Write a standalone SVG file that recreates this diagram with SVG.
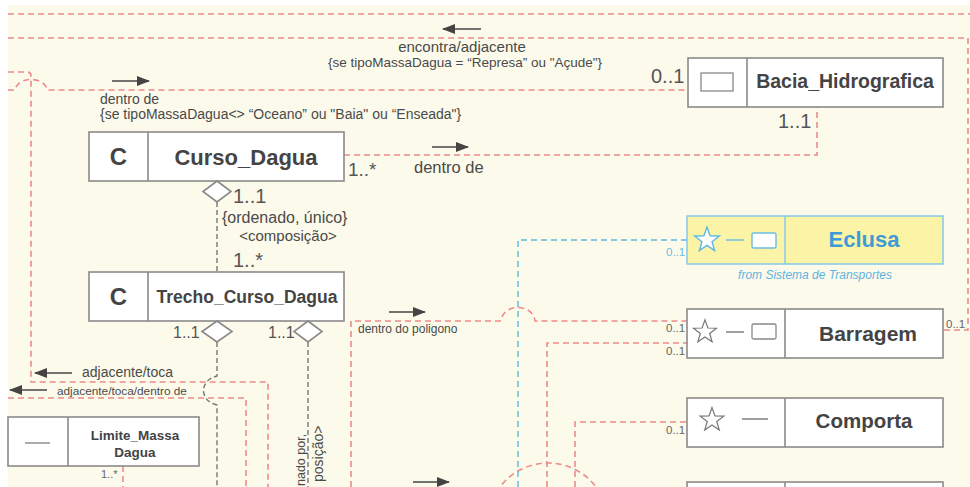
<svg xmlns="http://www.w3.org/2000/svg" width="970" height="487" viewBox="0 0 970 487">
<style>
text{font-family:"Liberation Sans",Arial,sans-serif;fill:#4a4a4a}
.box{fill:#fff;stroke:#8a8a8a;stroke-width:1.6}
.div{stroke:#8a8a8a;stroke-width:1.6}
.t{font-weight:bold;text-anchor:middle;fill:#444}
.red{fill:none;stroke:#ee8a8a;stroke-width:1.6;stroke-dasharray:6 4}
.blue{fill:none;stroke:#5cb8e4;stroke-width:1.4;stroke-dasharray:6 4}
.grey{fill:none;stroke:#777;stroke-width:1.4;stroke-dasharray:5 3}
.arr{stroke:#444;stroke-width:1.5;fill:none;marker-end:url(#ah)}
.m{fill:#555}
.s{font-size:11.5px;fill:#666}
.dia{fill:#fff;stroke:#888;stroke-width:1.6}
.star{fill:#fff;stroke:#777;stroke-width:1.3}
</style>
<defs>
<marker id="ah" markerUnits="userSpaceOnUse" markerWidth="14" markerHeight="10" refX="12" refY="5" orient="auto">
<path d="M0,0 L13,5 L0,10 Z" fill="#444"/>
</marker>
<polygon id="starShape" points="0,-13 3.12,-4.29 12.36,-4.02 5.04,1.64 7.64,10.52 0,5.3 -7.64,10.52 -5.04,1.64 -12.36,-4.02 -3.12,-4.29"/>
</defs>
<rect x="0" y="0" width="970" height="487" fill="#ffffff"/>
<rect x="8" y="5" width="962" height="482" fill="#fcfaeb"/>

<g id="connectors">
<path class="red" d="M8,14 H970"/>
<path class="red" d="M8,38 H968 V330 H943"/>
<path class="red" d="M8,90 H15 C17,76 45,76 47,90 H688"/>
<path class="red" d="M8,72 H27 Q31,72 31,76 V382 H268 V487"/>
<path class="red" d="M8,398 H246 V487"/>
<path class="red" d="M344,155 H817 V107"/>
<path class="red" d="M351,487 V321 H501 C503,303 533,303 535,321 H687"/>
<path class="red" d="M547,487 V343 H687"/>
<path class="red" d="M575,487 V422 H687"/>
<path class="red" d="M123,466 V487"/>
<circle class="red" cx="548" cy="523" r="60"/>
<path class="blue" d="M518,487 V240 H687"/>
<path class="grey" d="M217,202 V272"/>
<path class="grey" d="M217,342 V376 C199,380 199,401 217,405 V487"/>
<path class="grey" d="M308,342 V487"/>
<line class="arr" x1="481" y1="29" x2="443" y2="29"/>
<line class="arr" x1="112" y1="81" x2="149" y2="81"/>
<line class="arr" x1="432" y1="147" x2="468" y2="147"/>
<line class="arr" x1="389" y1="312" x2="425" y2="312"/>
<line class="arr" x1="413" y1="482" x2="449" y2="482"/>
<line class="arr" x1="72" y1="373" x2="35" y2="373"/>
<line class="arr" x1="47" y1="390" x2="10" y2="390"/>
<text x="462" y="52" text-anchor="middle" style="font-size:15px">encontra/adjacente</text>
<text x="465" y="67" text-anchor="middle" style="font-size:13.5px">{se tipoMassaDagua = “Represa” ou "Açude"}</text>
<text x="100" y="104" style="font-size:14px">dentro de</text>
<text x="100" y="119" style="font-size:14px">{se tipoMassaDagua&lt;&gt; “Oceano” ou "Baia" ou “Enseada"}</text>
<text x="651" y="83" class="m" style="font-size:20px">0..1</text>
<text x="778" y="128" class="m" style="font-size:20px">1..1</text>
<text x="348" y="176" class="m" style="font-size:19px">1..*</text>
<text x="414" y="173" style="font-size:16.5px">dentro de</text>
<text x="233" y="203" class="m" style="font-size:20px">1..1</text>
<text x="222" y="223" style="font-size:16px">{ordenado, único}</text>
<text x="288" y="241" text-anchor="middle" style="font-size:15px">&lt;composição&gt;</text>
<text x="233" y="267" class="m" style="font-size:20px">1..*</text>
<text x="173" y="338" class="m" style="font-size:16px">1..1</text>
<text x="268" y="338" class="m" style="font-size:16px">1..1</text>
<text x="82" y="377" style="font-size:14px">adjacente/toca</text>
<text x="57" y="395" style="font-size:11.8px">adjacente/toca/dentro de</text>
<text x="358" y="333" style="font-size:12px">dentro do poligono</text>
<text transform="translate(305,486) rotate(-90)" style="font-size:12.5px">nado por,</text>
<text transform="translate(323,482) rotate(-90)" style="font-size:14px">posição&gt;</text>
<text x="101" y="478" style="font-size:11px;fill:#666">1..*</text>
<text x="666" y="256" style="font-size:11.5px;fill:#6bbbe3">0..1</text>
<text x="666" y="332" class="s">0..1</text>
<text x="666" y="355" class="s">0..1</text>
<text x="666" y="434" class="s">0..1</text>
<text x="946" y="328" class="s">0..1</text>
</g>

<g id="Curso_Dagua">
<rect class="box" x="89" y="132" width="255" height="49"/>
<line class="div" x1="148" y1="132" x2="148" y2="181"/>
<text class="t" x="118.5" y="165" style="font-size:24px">C</text>
<text class="t" x="246" y="165" style="font-size:22px">Curso_Dagua</text>
<polygon class="dia" points="217,181 231,191.5 217,202 203,191.5"/>
</g>

<g id="Trecho_Curso_Dagua">
<rect class="box" x="89" y="272" width="255" height="49"/>
<line class="div" x1="148" y1="272" x2="148" y2="321"/>
<text class="t" x="118.5" y="305" style="font-size:24px">C</text>
<text class="t" x="247" y="303" style="font-size:17.5px">Trecho_Curso_Dagua</text>
<polygon class="dia" points="217,321 232,331.5 217,342 202,331.5"/>
<polygon class="dia" points="308,321 322,331.5 308,342 294,331.5"/>
</g>

<g id="Bacia_Hidrografica">
<rect class="box" x="688" y="58" width="255" height="49"/>
<line class="div" x1="747" y1="58" x2="747" y2="107"/>
<rect x="701" y="73" width="32" height="18" fill="#fff" stroke="#888" stroke-width="1.3"/>
<text class="t" x="845" y="88" style="font-size:19.5px">Bacia_Hidrografica</text>
</g>

<g id="Eclusa">
<rect x="687" y="216" width="256" height="48" fill="#fbf4a6" stroke="#8ecbe6" stroke-width="1.6"/>
<line x1="785" y1="216" x2="785" y2="264" stroke="#8ecbe6" stroke-width="1.6"/>
<use href="#starShape" transform="translate(707,240)" fill="#fff" stroke="#5cb8e4" stroke-width="1.4"/>
<line x1="726" y1="240" x2="744" y2="240" stroke="#6bbbe3" stroke-width="1.4"/>
<rect x="752" y="233" width="24" height="15" rx="1.5" fill="#fff" stroke="#6bbbe3" stroke-width="1.4"/>
<text class="t" x="864" y="247" style="font-size:22px;fill:#3d9bd6">Eclusa</text>
<text x="815" y="279" text-anchor="middle" style="font-size:12px;font-style:italic;fill:#5cb3e0">from Sistema de Transportes</text>
</g>

<g id="Barragem">
<rect class="box" x="687" y="309" width="256" height="49"/>
<line class="div" x1="785" y1="309" x2="785" y2="358"/>
<use href="#starShape" class="star" transform="translate(705,332) scale(0.93)"/>
<line x1="726" y1="332" x2="744" y2="332" stroke="#777" stroke-width="1.4"/>
<rect x="752" y="324" width="24" height="15" rx="1.5" fill="#fff" stroke="#888" stroke-width="1.3"/>
<text class="t" x="868" y="341" style="font-size:21px">Barragem</text>
</g>

<g id="Comporta">
<rect class="box" x="687" y="398" width="256" height="49"/>
<line class="div" x1="785" y1="398" x2="785" y2="447"/>
<use href="#starShape" class="star" transform="translate(712,420) scale(0.95)"/>
<line x1="742" y1="419" x2="768" y2="419" stroke="#777" stroke-width="1.4"/>
<text class="t" x="864" y="428" style="font-size:20.5px">Comporta</text>
</g>

<g id="node_bottom">
<rect class="box" x="687" y="482" width="256" height="20"/>
<line class="div" x1="785" y1="482" x2="785" y2="487"/>
</g>

<g id="Limite_Massa_Dagua">
<rect class="box" x="8" y="417" width="191" height="49"/>
<line class="div" x1="68" y1="417" x2="68" y2="466"/>
<line x1="25" y1="443" x2="50" y2="443" stroke="#888" stroke-width="1.4"/>
<text class="t" x="135" y="440" style="font-size:13.5px">Limite_Massa</text>
<text class="t" x="135" y="457" style="font-size:13.5px">Dagua</text>
</g>
</svg>
